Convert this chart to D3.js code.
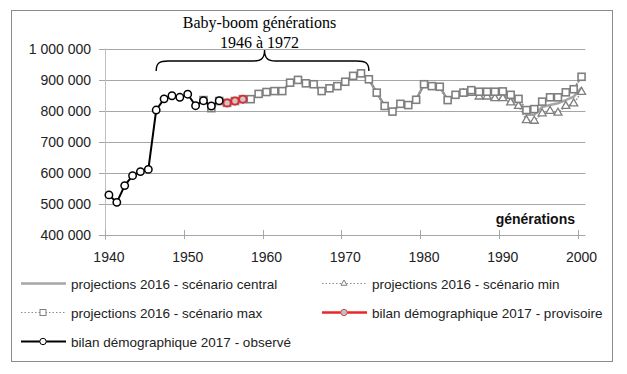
<!DOCTYPE html>
<html>
<head>
<meta charset="utf-8">
<script src="https://cdn.jsdelivr.net/npm/d3@7"></script>
<style>
body { margin: 0; background: #fff; }
svg { display: block; font-family: "Liberation Sans", Arial, sans-serif; }
</style>
</head>
<body>
<svg id="chart" width="627" height="374"></svg>
<script>
// generations (categories) and axis ticks
var years = d3.range(1940, 2001);
var x_ticks = [1940, 1950, 1960, 1970, 1980, 1990, 2000];
var y_ticks = [400, 500, 600, 700, 800, 900, 1000]; // thousands

// bilan démographique 2017 - observé, 1940-1954 (thousands)
var obs_start = 1940;
var obs_values = [529, 505, 559, 591, 604, 611, 802, 838, 848, 843, 853, 816, 832, 815, 832];

// bilan démographique 2017 - provisoire, 1955-1957
var prov_start = 1955;
var prov_values = [825, 831, 837];

// projections 2016, 1952-2000
var proj_start = 1952;
var max_values = [834, 808, 831, 825, 831, 837, 837, 854, 860, 863,
                  863, 890, 899, 888, 885, 863, 872, 879, 893, 912,
                  920, 901, 858, 815, 797, 822, 818, 835, 885, 879,
                  877, 834, 851, 858, 866, 861, 861, 861, 862, 851,
                  838, 802, 805, 829, 843, 843, 859, 869, 909];
var min_values = [834, 808, 831, 825, 831, 837, 837, 854, 860, 863,
                  863, 890, 899, 888, 885, 863, 872, 879, 893, 912,
                  920, 901, 858, 815, 797, 822, 818, 835, 885, 879,
                  877, 834, 851, 855, 857, 845, 845, 840, 840, 826,
                  815, 769, 767, 791, 799, 793, 815, 823, 860];
var central_values = [834, 808, 831, 825, 831, 837, 837, 854, 860, 863,
                  863, 890, 899, 888, 885, 863, 872, 879, 893, 912,
                  920, 901, 858, 815, 797, 822, 818, 835, 885, 879,
                  877, 834, 851, 857, 862, 853, 853, 851, 851, 838,
                  826, 787, 787, 812, 818, 824, 834, 845, 874];

var toPoints = function(start, values) {
	return values.map(function(v, i) { return {year: start + i, value: v}; });
};

var svg = d3.select("#chart");

// category axis: each generation takes one slot
var x = d3.scaleLinear().domain([years[0] - 0.5, years[years.length - 1] + 0.5]).range([105, 585.5]);
var y = d3.scaleLinear().domain([400, 1000]).range([235, 48.5]);

var fmt = d3.formatLocale({decimal: ",", thousands: " ", grouping: [3], currency: ["", ""]}).format(",");

// outer frame
svg.append("rect")
	.attr("x", 11.5).attr("y", 10.5)
	.attr("width", 601).attr("height", 351)
	.attr("fill", "none").attr("stroke", "#8c8c8c").attr("stroke-width", 1);

// gridlines
svg.append("g").selectAll("line")
	.data(y_ticks)
	.enter().append("line")
	.attr("x1", 99).attr("x2", 585.5)
	.attr("y1", function(d) { return Math.round(y(d)) + 0.5; })
	.attr("y2", function(d) { return Math.round(y(d)) + 0.5; })
	.attr("stroke", "#a6a6a6").attr("stroke-width", 1);

// y axis line
svg.append("line")
	.attr("x1", 105.5).attr("x2", 105.5)
	.attr("y1", y(1000)).attr("y2", y(400) + 5)
	.attr("stroke", "#bfbfbf");

svg.append("g").selectAll("text")
	.data(y_ticks)
	.enter().append("text")
	.attr("x", 91).attr("y", function(d) { return y(d) + 5; })
	.attr("text-anchor", "end")
	.attr("font-size", "14px").attr("fill", "#222")
	.text(function(d) { return fmt(d * 1000); });

// x ticks between categories
svg.append("g").selectAll("line")
	.data(x_ticks)
	.enter().append("line")
	.attr("x1", function(d) { return Math.round(x(d - 0.5)) + 0.5; })
	.attr("x2", function(d) { return Math.round(x(d - 0.5)) + 0.5; })
	.attr("y1", y(400) - 5).attr("y2", y(400) + 4)
	.attr("stroke", "#a6a6a6");

svg.append("g").selectAll("text")
	.data(x_ticks)
	.enter().append("text")
	.attr("x", function(d) { return x(d); }).attr("y", 262)
	.attr("text-anchor", "middle")
	.attr("font-size", "14px").attr("fill", "#222")
	.text(function(d) { return d; });

svg.append("text")
	.attr("x", 575).attr("y", 224)
	.attr("text-anchor", "end")
	.attr("font-size", "14px").attr("font-weight", "bold").attr("fill", "#111")
	.text("générations");

var line = d3.line()
	.x(function(d) { return x(d.year); })
	.y(function(d) { return y(d.value); });

var central = toPoints(proj_start, central_values);
var mins = toPoints(proj_start, min_values);
var maxs = toPoints(proj_start, max_values);
var obs = toPoints(obs_start, obs_values);
var prov = toPoints(prov_start, prov_values);

svg.append("path").datum(central).attr("d", line)
	.attr("fill", "none").attr("stroke", "#a6a6a6").attr("stroke-width", 2.5);

svg.append("path").datum(mins).attr("d", line)
	.attr("fill", "none").attr("stroke", "#8c8c8c").attr("stroke-width", 1.5)
	.attr("stroke-dasharray", "1.5,1.5");
var tri = d3.symbol().type(d3.symbolTriangle).size(28);
svg.append("g").selectAll("path")
	.data(mins.filter(function(d) { return d.year >= 1985; }))
	.enter().append("path")
	.attr("d", tri)
	.attr("transform", function(d) { return "translate(" + x(d.year) + "," + y(d.value) + ")"; })
	.attr("fill", "#fff").attr("stroke", "#7f7f7f").attr("stroke-width", 1.3);

svg.append("path").datum(maxs).attr("d", line)
	.attr("fill", "none").attr("stroke", "#8c8c8c").attr("stroke-width", 2)
	.attr("stroke-dasharray", "2,1");
svg.append("g").selectAll("rect")
	.data(maxs)
	.enter().append("rect")
	.attr("x", function(d) { return x(d.year) - 3.5; })
	.attr("y", function(d) { return y(d.value) - 3.5; })
	.attr("width", 7).attr("height", 7)
	.attr("fill", "#fff").attr("stroke", "#7f7f7f").attr("stroke-width", 1.6);

// provisoire
svg.append("path").datum(prov).attr("d", line)
	.attr("fill", "none").attr("stroke", "#e8262a").attr("stroke-width", 2.5);
svg.append("g").selectAll("circle")
	.data(prov)
	.enter().append("circle")
	.attr("cx", function(d) { return x(d.year); })
	.attr("cy", function(d) { return y(d.value); })
	.attr("r", 3.6)
	.attr("fill", "#c8c8c8").attr("stroke", "#e8262a").attr("stroke-width", 1.8);

// observé
svg.append("path").datum(obs).attr("d", line)
	.attr("fill", "none").attr("stroke", "#000").attr("stroke-width", 2);
svg.append("g").selectAll("circle")
	.data(obs)
	.enter().append("circle")
	.attr("cx", function(d) { return x(d.year); })
	.attr("cy", function(d) { return y(d.value); })
	.attr("r", 3.7)
	.attr("fill", "#fff").attr("stroke", "#000").attr("stroke-width", 1.5);

// baby-boom brace
var bx0 = x(1946), bx1 = x(1973), bm = (bx0 + bx1) / 2 + 2;
var yt = 61, ye = 71, yc = 50;
svg.append("path")
	.attr("d", "M" + bx0 + "," + ye +
		" C" + bx0 + "," + (yt + 2) + " " + (bx0 + 3) + "," + yt + " " + (bx0 + 12) + "," + yt +
		" L" + (bm - 11) + "," + yt +
		" C" + (bm - 3) + "," + yt + " " + bm + "," + (yt - 3) + " " + bm + "," + yc +
		" C" + bm + "," + (yt - 3) + " " + (bm + 3) + "," + yt + " " + (bm + 11) + "," + yt +
		" L" + (bx1 - 12) + "," + yt +
		" C" + (bx1 - 3) + "," + yt + " " + bx1 + "," + (yt + 2) + " " + bx1 + "," + ye)
	.attr("fill", "none").attr("stroke", "#000").attr("stroke-width", 1.4);

svg.append("text")
	.attr("x", 259.5).attr("y", 28)
	.attr("text-anchor", "middle")
	.attr("font-family", "'Liberation Serif', 'Times New Roman', serif")
	.attr("font-size", "16px")
	.text("Baby-boom générations");
svg.append("text")
	.attr("x", 259.5).attr("y", 48)
	.attr("text-anchor", "middle")
	.attr("font-family", "'Liberation Serif', 'Times New Roman', serif")
	.attr("font-size", "16px")
	.text("1946 à 1972");

// legend
var legend_items = [
	{label: "projections 2016 - scénario central", col: 0, row: 0, kind: "central"},
	{label: "projections 2016 - scénario min", col: 1, row: 0, kind: "min"},
	{label: "projections 2016 - scénario max", col: 0, row: 1, kind: "max"},
	{label: "bilan démographique 2017 - provisoire", col: 1, row: 1, kind: "prov"},
	{label: "bilan démographique 2017 - observé", col: 0, row: 2, kind: "obs"}
];
var col_x = [21, 322], row_y = [283.5, 312.5, 341.5];

legend_items.forEach(function(it) {
	var g = svg.append("g").attr("transform", "translate(" + col_x[it.col] + "," + row_y[it.row] + ")");
	var ln = g.append("line").attr("x1", 0).attr("x2", 45).attr("y1", 0).attr("y2", 0);
	if (it.kind == "central") ln.attr("stroke", "#a6a6a6").attr("stroke-width", 2.5);
	if (it.kind == "min" || it.kind == "max") ln.attr("stroke", "#8c8c8c").attr("stroke-width", 1.2).attr("stroke-dasharray", "1.5,2");
	if (it.kind == "prov") ln.attr("stroke", "#e8262a").attr("stroke-width", 2.5);
	if (it.kind == "obs") ln.attr("stroke", "#000").attr("stroke-width", 2);
	if (it.kind == "min") {
		g.append("path").attr("d", d3.symbol().type(d3.symbolTriangle).size(16))
			.attr("transform", "translate(22,0)")
			.attr("fill", "#fff").attr("stroke", "#7f7f7f").attr("stroke-width", 1);
	}
	if (it.kind == "max") {
		g.append("rect").attr("x", 19).attr("y", -3).attr("width", 6).attr("height", 6)
			.attr("fill", "#fff").attr("stroke", "#7f7f7f").attr("stroke-width", 1);
	}
	if (it.kind == "prov") {
		g.append("circle").attr("cx", 22).attr("cy", 0).attr("r", 3.2)
			.attr("fill", "#c0c0c0").attr("stroke", "#d05050").attr("stroke-width", 1);
	}
	if (it.kind == "obs") {
		g.append("circle").attr("cx", 22).attr("cy", 0).attr("r", 3.2)
			.attr("fill", "#fff").attr("stroke", "#000").attr("stroke-width", 1);
	}
	g.append("text").attr("x", 50).attr("y", 5)
		.attr("font-size", "13.5px").attr("fill", "#222")
		.text(it.label);
});
</script>
</body>
</html>
